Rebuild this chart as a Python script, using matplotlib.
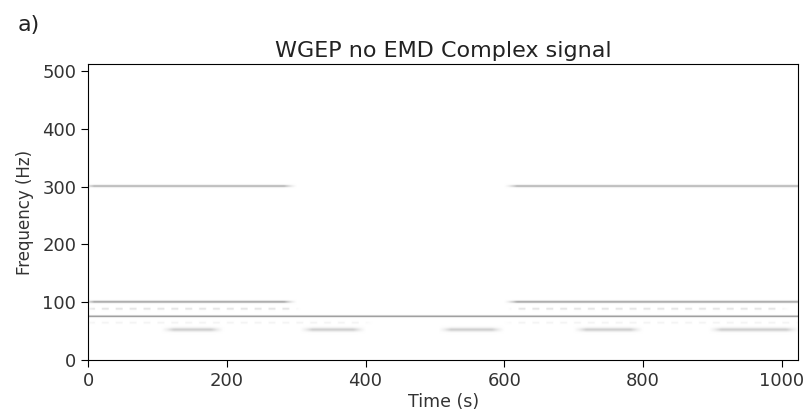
import numpy as np
import matplotlib
matplotlib.use('Agg')
import matplotlib.pyplot as plt

# spectral components: frequency (Hz), start/end time (s), darkness, width (Hz), dashed?
comp_freq  = [300, 300, 100, 100, 88, 88, 75, 64, 64, 52, 52, 52, 52, 52]
comp_t0    = [-10, 600, -10, 600, -10, 605, -20, -10, 600, 105, 305, 505, 700, 895]
comp_t1    = [300, 1040, 300, 1040, 305, 1010, 1044, 410, 1030, 195, 400, 600, 800, 1025]
comp_level = [0.45, 0.45, 0.5, 0.5, 0.22, 0.22, 0.6, 0.1, 0.1, 0.3, 0.3, 0.3, 0.3, 0.3]
comp_width = [1.4, 1.4, 1.4, 1.4, 1.2, 1.2, 1.0, 1.2, 1.2, 2.5, 2.5, 2.5, 2.5, 2.5]
comp_dash  = [0, 0, 0, 0, 1, 1, 0, 1, 1, 0, 0, 0, 0, 0]

fs = 1024
nt = 512
t = np.linspace(0, 1024, nt)
f = np.arange(0, fs // 2 + 1)
img = np.zeros((len(f), nt))

for fr, a, b, lv, w, dsh in zip(comp_freq, comp_t0, comp_t1, comp_level, comp_width, comp_dash):
    ramp = 18.0
    env = np.clip((t - a) / ramp, 0, 1) * np.clip((b - t) / ramp, 0, 1)
    if dsh:
        env = env * (np.sin(2 * np.pi * t / 20.0) > 0)
    prof = np.exp(-0.5 * ((f - fr) / w) ** 2)
    img += lv * np.outer(prof, env)

img = np.clip(img, 0, 1)

fig = plt.figure(figsize=(8.08, 4.13), dpi=100)
ax = fig.add_axes([0.109, 0.128, 0.879, 0.717])
ax.imshow(img, origin='lower', aspect='auto', cmap='Greys', vmin=0, vmax=1,
          extent=[0, 1024, 0, 512], interpolation='bilinear')
ax.set_xlim(0, 1024)
ax.set_ylim(0, 512)
ax.set_xticks([0, 200, 400, 600, 800, 1000])
ax.set_yticks([0, 100, 200, 300, 400, 500])
ax.tick_params(labelsize=13, length=5, labelcolor='#333333')
ax.set_xlabel('Time (s)', fontsize=12.5, labelpad=2, color='#333333')
ax.set_ylabel('Frequency (Hz)', fontsize=12, labelpad=6, color='#333333')
ax.set_title('WGEP no EMD Complex signal', fontsize=16, pad=5, color='#222222')
fig.text(0.022, 0.94, 'a)', fontsize=16, va='center', color='#222222')

fig.savefig('out.png', dpi=100)
